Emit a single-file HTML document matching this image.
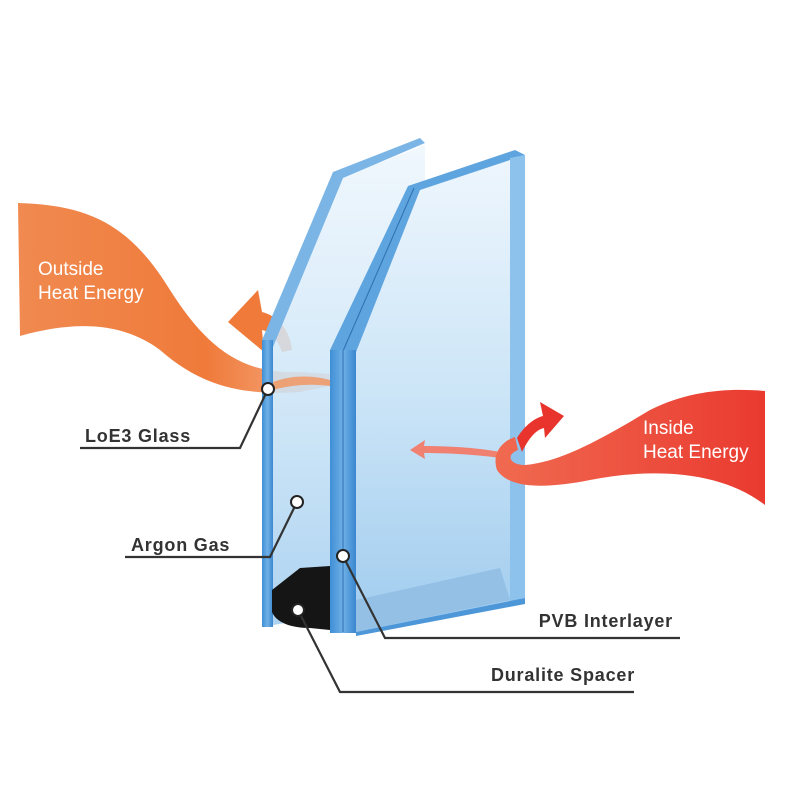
<!DOCTYPE html>
<html><head><meta charset="utf-8"><style>
html,body{margin:0;padding:0;background:#fff;}
svg{display:block;font-family:"Liberation Sans",Arial,sans-serif;}
</style></head><body>
<svg width="800" height="800" viewBox="0 0 800 800" xmlns="http://www.w3.org/2000/svg">
<defs>
<linearGradient id="face" x1="0" y1="0" x2="0" y2="1">
<stop offset="0" stop-color="#eef6fd"/><stop offset="0.5" stop-color="#cce5f7"/><stop offset="1" stop-color="#9fcbee"/>
</linearGradient>
<linearGradient id="edge" x1="0" y1="0" x2="1" y2="0">
<stop offset="0" stop-color="#3f8fd6"/><stop offset="0.5" stop-color="#6fb0e6"/><stop offset="1" stop-color="#3a86cf"/>
</linearGradient>
<linearGradient id="org" x1="0" y1="0" x2="1" y2="0">
<stop offset="0" stop-color="#f08a50"/><stop offset="0.6" stop-color="#ef7a3a"/><stop offset="1" stop-color="#f6b08a"/>
</linearGradient>
<linearGradient id="red" x1="0" y1="0" x2="1" y2="0">
<stop offset="0" stop-color="#f06a50"/><stop offset="1" stop-color="#ea3a30"/>
</linearGradient>
</defs>

<path d="M18,203 C90,205 130,225 170,290 C205,345 240,375 300,372 L330,374 L330,386 L300,392 C240,396 200,385 160,350 C120,320 70,322 20,336 Z" fill="url(#org)"/>
<path d="M228,322 L258,290 L262,312 C278,316 290,330 292,350 L282,352 C278,340 272,332 262,330 L264,352 Z" fill="#ef7a3a"/>
<text x="38" y="275" fill="#fff" font-size="19">Outside</text>
<text x="38" y="299" fill="#fff" font-size="19">Heat Energy</text>

<path d="M273,345 L340,178 L425,145 L425,600 L273,625 Z" fill="url(#face)" opacity="0.85"/>
<path d="M262,340 L333,172 L420,138 L425,143 L343,178 L273,347 Z" fill="#7ab5e6"/>
<rect x="262" y="340" width="11" height="287" fill="url(#edge)"/>

<path d="M356,352 L420,190 L520,156 L520,600 L356,632 Z" fill="url(#face)"/>
<path d="M356,600 L500,568 L510,600 L356,632 Z" fill="#94c0e6"/>
<path d="M330,350 L408,186 L515,150 L525,155 L420,190 L356,352 Z" fill="#5ea4df"/>
<line x1="343" y1="351" x2="414" y2="188" stroke="#2f6fb0" stroke-width="1"/>
<rect x="330" y="350" width="26" height="283" fill="url(#edge)"/>
<line x1="343" y1="350" x2="343" y2="632" stroke="#2f6fb0" stroke-width="1"/>
<path d="M510,158 L525,155 L525,598 L510,602 Z" fill="#8cc2ec"/>
<path d="M356,632 L525,598 L525,604 L356,636 Z" fill="#4d96d8"/>

<path d="M272,590 L272,612 C276,622 290,628 310,628 L330,630 L330,566 L300,568 Z" fill="#151515"/>

<path d="M273,382 C295,374 315,376 330,380 L330,386 C315,384 295,384 273,390 Z" fill="#f3925a" opacity="0.8"/>
<path d="M410,450 L425,440 L424,446 C450,446 480,448 500,452 L500,458 C480,455 450,453 424,453 L425,459 Z" fill="#f08070"/>

<path d="M765,391 L765,505 C720,470 650,468 590,480 C550,488 510,490 497,470 C492,455 500,442 515,437 L518,450 C505,455 510,465 525,465 C560,462 600,440 650,410 C690,390 730,388 765,391 Z" fill="url(#red)"/>
<path d="M517,438 C525,425 535,418 543,416 L540,402 L564,416 L545,438 L544,428 C535,430 528,440 522,452 Z" fill="#e8342c"/>
<text x="643" y="434" fill="#fff" font-size="19">Inside</text>
<text x="643" y="458" fill="#fff" font-size="19">Heat Energy</text>

<g stroke="#333" stroke-width="2.2" fill="none">
<polyline points="80,448 240,448 268,389"/>
<polyline points="125,557 270,557 297,502"/>
<polyline points="343,556 385,638 680,638"/>
<polyline points="298,610 340,692 634,692"/>
</g>
<g fill="#fff" stroke="#222" stroke-width="2">
<circle cx="268" cy="389" r="6"/>
<circle cx="297" cy="502" r="6"/>
<circle cx="343" cy="556" r="6"/>
<circle cx="298" cy="610" r="6"/>
</g>
<g fill="#333" font-size="18" font-weight="bold" letter-spacing="0.8">
<text x="85" y="442">LoE3 Glass</text>
<text x="131" y="551">Argon Gas</text>
<text x="673" y="627" text-anchor="end">PVB Interlayer</text>
<text x="635" y="681" text-anchor="end">Duralite Spacer</text>
</g>
</svg>
</body></html>
